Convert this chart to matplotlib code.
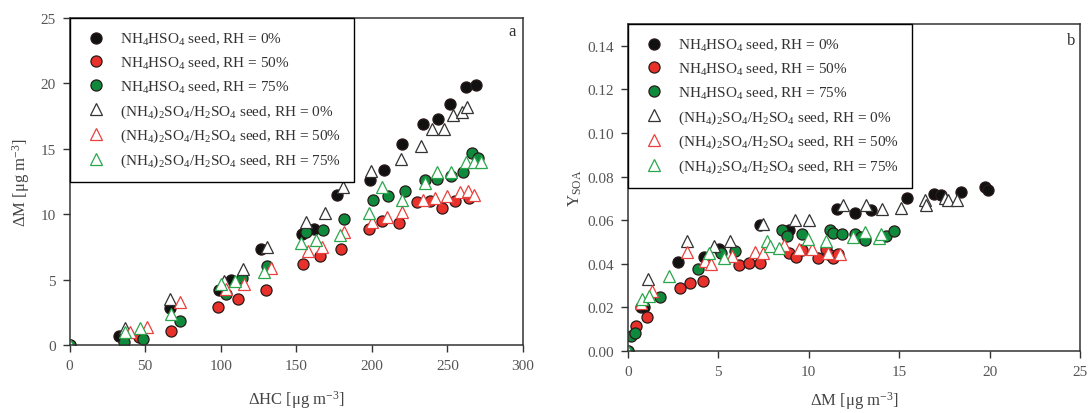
import numpy as np
import matplotlib
matplotlib.use("Agg")
import matplotlib.pyplot as plt

plt.rcParams['font.family'] = ['Liberation Serif', 'DejaVu Serif']
plt.rcParams['mathtext.fontset'] = 'custom'
plt.rcParams['mathtext.rm'] = 'Liberation Serif'
plt.rcParams['mathtext.it'] = 'Liberation Serif:italic'
plt.rcParams['mathtext.bf'] = 'Liberation Serif:bold'

# ---- panel a: dM vs dHC ----
a_bc_x = [0, 33, 36, 66.7, 98.9, 106.9, 126.4, 154, 162, 177, 198.9, 208, 220, 234, 243.7, 251.7, 262.5, 269]
a_bc_y = [0, 0.7, 0.8, 2.8, 4.2, 5.0, 7.3, 8.5, 8.9, 11.5, 12.6, 13.4, 15.4, 16.9, 17.3, 18.4, 19.7, 19.9]

a_rc_x = [46, 67.4, 98.4, 111.3, 130.3, 154.5, 165.5, 179.3, 198.4, 206.4, 217.7, 230, 238.6, 246.5, 255.2, 264.4]
a_rc_y = [0.6, 1.1, 2.9, 3.5, 4.2, 6.2, 6.8, 7.3, 8.9, 9.5, 9.3, 10.9, 11.0, 10.5, 11.0, 11.2]

a_gc_x = [0, 36.3, 48.3, 72.9, 103.7, 114.3, 130.6, 156.3, 167.8, 181.6, 201, 211, 222, 235, 243.2, 252.2, 260.4, 266.2, 270]
a_gc_y = [0, 0.25, 0.45, 1.8, 3.9, 5.1, 6.0, 8.6, 8.8, 9.6, 11.1, 11.4, 11.8, 12.6, 12.7, 12.9, 13.2, 14.7, 14.3]

a_bt_x = [36.8, 66.7, 102.3, 114.9, 130.6, 156.3, 169, 181, 199.4, 219.5, 232.6, 239.8, 247.6, 254, 259.8, 263.2]
a_bt_y = [1.3, 3.5, 4.9, 5.8, 7.5, 9.4, 10.1, 12.1, 13.3, 14.2, 15.2, 16.5, 16.5, 17.6, 17.8, 18.2]

a_rt_x = [40, 51, 73.1, 103.4, 115.6, 133.3, 157.5, 166.7, 181.6, 200, 210.3, 220, 234, 241.8, 249.9, 258.6, 263.7, 267.8]
a_rt_y = [1.0, 1.4, 3.3, 4.3, 4.7, 5.9, 7.2, 7.5, 8.6, 9.4, 9.8, 10.2, 11.1, 11.2, 11.4, 11.7, 11.8, 11.5]

a_gt_x = [0, 36.8, 46.4, 67.4, 100.5, 109.2, 128.7, 153.1, 163.2, 178.9, 198.4, 206.9, 220, 235, 243.2, 252.2, 262, 267.8, 272.4]
a_gt_y = [0, 1.0, 1.3, 2.4, 4.7, 4.9, 5.6, 7.8, 8.0, 8.4, 10.1, 12.1, 11.1, 12.4, 13.2, 13.2, 14.0, 14.0, 14.0]

# ---- panel b: yield vs dM ----
b_bc_x = [0, 0.71, 0.9, 2.78, 4.22, 5.03, 7.28, 8.93, 11.56, 12.58, 13.42, 15.44, 16.9, 17.3, 18.43, 19.72, 19.9]
b_bc_y = [0, 0.0204, 0.020, 0.041, 0.043, 0.047, 0.0577, 0.0554, 0.065, 0.0635, 0.0646, 0.070, 0.0722, 0.0715, 0.0731, 0.0754, 0.0739]

b_rc_x = [0.46, 1.06, 2.86, 3.46, 4.17, 6.14, 6.72, 7.28, 8.93, 9.29, 9.6, 10.5, 10.98, 11.17, 11.33, 11.6]
b_rc_y = [0.0115, 0.0156, 0.029, 0.031, 0.032, 0.0395, 0.0405, 0.0405, 0.0448, 0.0431, 0.0464, 0.0425, 0.0467, 0.044, 0.0428, 0.0444]

b_gc_x = [0, 0.19, 0.42, 1.77, 3.88, 5.13, 5.95, 8.54, 8.81, 9.64, 11.17, 11.36, 11.84, 12.58, 12.9, 13.13, 14.25, 14.73]
b_gc_y = [0, 0.0069, 0.0084, 0.0248, 0.0378, 0.0448, 0.0459, 0.0555, 0.0528, 0.0536, 0.0555, 0.0543, 0.0536, 0.0536, 0.0523, 0.051, 0.0528, 0.0551]

b_bt_x = [1.13, 3.3, 4.78, 5.66, 7.49, 9.25, 10.02, 11.9, 13.15, 14.06, 15.11, 16.4, 16.5, 17.5, 17.7, 18.18]
b_bt_y = [0.0329, 0.0505, 0.0482, 0.0505, 0.0581, 0.060, 0.060, 0.067, 0.067, 0.065, 0.0658, 0.0692, 0.0669, 0.0700, 0.0692, 0.0692]

b_rt_x = [0.71, 1.34, 3.26, 4.26, 4.61, 5.76, 7.05, 7.47, 8.64, 9.45, 10.18, 11.08, 11.75]
b_rt_y = [0.022, 0.0275, 0.0456, 0.0413, 0.040, 0.0436, 0.0456, 0.0448, 0.0485, 0.0467, 0.047, 0.045, 0.0444]

b_gt_x = [0, 0.77, 1.19, 2.3, 4.49, 5.32, 7.72, 7.87, 8.33, 9.98, 10.98, 12.42, 13.09, 13.86, 13.99]
b_gt_y = [0, 0.0237, 0.0252, 0.0344, 0.0451, 0.0428, 0.0505, 0.0482, 0.0474, 0.0513, 0.0505, 0.0525, 0.0546, 0.0516, 0.0536]

labels = [r'NH$_4$HSO$_4$ seed, RH = 0%',
          r'NH$_4$HSO$_4$ seed, RH = 50%',
          r'NH$_4$HSO$_4$ seed, RH = 75%',
          r'(NH$_4$)$_2$SO$_4$/H$_2$SO$_4$ seed, RH = 0%',
          r'(NH$_4$)$_2$SO$_4$/H$_2$SO$_4$ seed, RH = 50%',
          r'(NH$_4$)$_2$SO$_4$/H$_2$SO$_4$ seed, RH = 75%']

fill_cols = ['#111111', '#e8312a', '#0f8a3c']
tri_cols = ['#333333', '#e8403c', '#2aa64c']
edge_dark = '#2a1a1a'
axis_col = '#333333'
tick_col = '#555555'


def draw_panel(ax, circles, triangles):
    for (x, y), fc in zip(circles, fill_cols):
        ax.plot(x, y, 'o', ms=8.0, mfc=fc, mec=edge_dark, mew=0.9, ls='none')
    for (x, y), ec in zip(triangles, tri_cols):
        ax.plot(x, y, '^', ms=8.2, mfc='white', mec=ec, mew=0.9, ls='none')
    ax.tick_params(direction='out', length=5, width=1, color=axis_col, pad=5,
                   labelcolor=tick_col, labelsize=11, top=False, right=False)
    for sp in ax.spines.values():
        sp.set_color(axis_col)
        sp.set_linewidth(1.1)
    leg = ax.legend(labels, loc='upper left', bbox_to_anchor=(0, 1), borderaxespad=0,
                    fontsize=11, frameon=True, fancybox=False, framealpha=1,
                    edgecolor='black', handletextpad=0.75, handlelength=1.7,
                    labelspacing=0.5, borderpad=0.85, labelcolor='#333333')
    leg.get_frame().set_linewidth(1.0)


fig = plt.figure(figsize=(10.9, 4.14), dpi=100)
ax1 = fig.add_axes([0.0638, 0.1643, 0.416, 0.7899])
ax2 = fig.add_axes([0.5759, 0.1498, 0.4152, 0.7899])

draw_panel(ax1,
           [(a_bc_x, a_bc_y), (a_rc_x, a_rc_y), (a_gc_x, a_gc_y)],
           [(a_bt_x, a_bt_y), (a_rt_x, a_rt_y), (a_gt_x, a_gt_y)])
ax1.set_xlim(0, 300)
ax1.set_ylim(0, 25)
ax1.set_xticks(np.arange(0, 301, 50))
ax1.set_yticks(np.arange(0, 26, 5))
ax1.set_xlabel('ΔHC [μg m$^{-3}$]', fontsize=12, color='#444444', labelpad=12)
ax1.set_ylabel('ΔM [μg m$^{-3}$]', fontsize=12, color='#444444', labelpad=6)
ax1.text(0.975, 0.96, 'a', transform=ax1.transAxes, ha='center', va='center',
         fontsize=12, color='#333333')

draw_panel(ax2,
           [(b_bc_x, b_bc_y), (b_rc_x, b_rc_y), (b_gc_x, b_gc_y)],
           [(b_bt_x, b_bt_y), (b_rt_x, b_rt_y), (b_gt_x, b_gt_y)])
ax2.set_xlim(0, 25)
ax2.set_ylim(0, 0.15)
ax2.set_xticks(np.arange(0, 26, 5))
ax2.set_yticks(np.arange(0, 0.141, 0.02))
ax2.yaxis.set_major_formatter(plt.FormatStrFormatter('%.2f'))
ax2.set_xlabel('ΔM [μg m$^{-3}$]', fontsize=12, color='#444444', labelpad=8)
ax2.set_ylabel(r'Y$_{\mathrm{SOA}}$', fontsize=12, color='#444444', labelpad=2)
ax2.text(0.98, 0.951, 'b', transform=ax2.transAxes, ha='center', va='center',
         fontsize=12, color='#333333')

fig.savefig('out.png', dpi=100)
